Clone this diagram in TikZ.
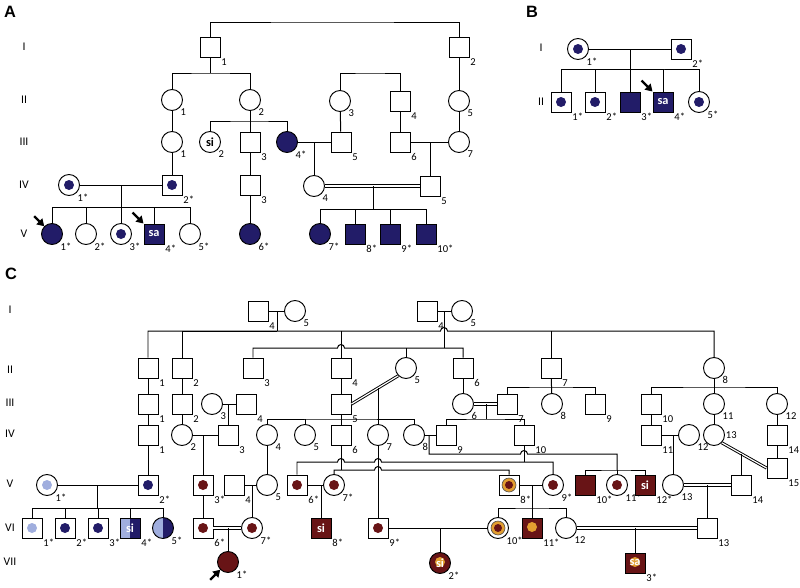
\documentclass[tikz,border=0pt]{standalone}
\usepackage{fontspec}
\setmainfont{Carlito}
\newfontfamily\panelfont{Liberation Sans}
\usepackage{tikz}
\usetikzlibrary{arrows.meta}

\definecolor{navy}{RGB}{34,28,104}
\definecolor{dred}{RGB}{104,20,22}
\definecolor{lblue}{RGB}{160,174,222}
\definecolor{gold}{RGB}{226,158,48}

\tikzset{
  male/.style={draw, rectangle, minimum size=0.6cm, inner sep=0pt, line width=0.8pt},
  female/.style={draw, circle, minimum size=0.63cm, inner sep=0pt, line width=0.8pt},
  carrier/.style={path picture={\fill[#1] (path picture bounding box.center) circle (0.15cm);}},
  ring/.style={path picture={\filldraw[fill=gold, draw=black!70, line width=0.5pt] (path picture bounding box.center) circle (0.21cm);
      \fill[dred] (path picture bounding box.center) circle (0.12cm);}},
  half/.style={path picture={\fill[lblue] (path picture bounding box.south west) rectangle (path picture bounding box.north);
      \fill[navy] (path picture bounding box.south) rectangle (path picture bounding box.north east);}},
  golddot/.style={path picture={\fill[gold] ([yshift=0.03cm]path picture bounding box.center) circle (0.15cm);}},
  txt/.style={font=\fontsize{10.5}{10.5}\selectfont\bfseries, text=white},
  txtb/.style={font=\fontsize{10.5}{10.5}\selectfont\bfseries},
  num/.style={font=\fontsize{9}{9}\selectfont, text=black, inner sep=0.4pt},
  lab/.style={label={[num]-45:#1}},
  gen/.style={font=\fontsize{10}{10}\selectfont},
  panel/.style={font=\panelfont\bfseries\fontsize{14}{14}\selectfont},
  dbl/.style={double, double distance=1pt, line width=0.8pt},
  proband/.style={-{Triangle[length=6pt,width=7pt]}, line width=2pt},
}

\begin{document}
\begin{tikzpicture}[x=0.03cm, y=-0.03cm, line width=0.85pt]
\useasboundingbox (0,0) rectangle (800,588);

% panel letters and generations
\node[panel] (pA) at (10,12) {A};
\node[panel] (pB) at (532,12) {B};
\node[panel] (pC) at (11,274) {C};
\foreach \r/\y in {I/47,II/100,III/142,IV/185,V/234}
  \node[gen] (a\r) at (24,\y) {\r};
\foreach \r/\y in {I/48,II/102}
  \node[gen] (b\r) at (541,\y) {\r};
\foreach \r/\y in {I/310,II/370,III/403,IV/434,V/484,VI/528,VII/562}
  \node[gen] (c\r) at (10,\y) {\r};

%%%%% A
\node[male, lab=1] (ai1) at (210,47) {};
\node[male, lab=2] (ai2) at (459,47) {};
\node[female, lab=1] (aii1) at (172,100) {};
\node[female, lab=2] (aii2) at (250,100) {};
\node[female, lab=3] (aii3) at (340,101) {};
\node[male, lab=4] (aii4) at (400,101) {};
\node[female, lab=5] (aii5) at (459,101) {};
\node[female, lab=1] (aiii1) at (172,142) {};
\node[female, txtb, lab=2] (aiii2) at (210,142) {si};
\node[male, lab=3] (aiii3) at (250,142) {};
\node[female, fill=navy, lab=4*] (aiii4) at (287,142) {};
\node[male, lab=5] (aiii5) at (341,142) {};
\node[male, lab=6] (aiii6) at (400,142) {};
\node[female, lab=7] (aiii7) at (459,142) {};
\node[female, carrier=navy, lab=1*] (aiv1) at (69,185) {};
\node[male, carrier=navy, lab=2*] (aiv2) at (172,185) {};
\node[male, lab=3] (aiv3) at (250,185) {};
\node[female, lab=4] (aiv4) at (314,186) {};
\node[male, lab=5] (aiv5) at (430,186) {};
\node[female, fill=navy, lab=1*] (av1) at (52,234) {};
\node[female, lab=2*] (av2) at (86,234) {};
\node[female, carrier=navy, lab=3*] (av3) at (121,234) {};
\node[male, fill=navy, txt, lab=4*] (av4) at (154,234) {sa};
\node[female, lab=5*] (av5) at (190,234) {};
\node[female, fill=navy, lab=6*] (av6) at (250,234) {};
\node[female, fill=navy, lab=7*] (av7) at (320,234) {};
\node[male, fill=navy, lab=8*] (av8) at (355,234) {};
\node[male, fill=navy, lab=9*] (av9) at (390,234) {};
\node[male, fill=navy, lab=10*] (av10) at (426,234) {};

\coordinate (atop) at (330,22);
\coordinate (sa1) at (210,73);
\coordinate (sa2) at (370,73);
\coordinate (sa3) at (250,121);
\coordinate (ma1) at (314,142);
\coordinate (ma2) at (430,142);
\coordinate (ma3) at (121,185);
\coordinate (sa4) at (121,207);
\coordinate (ma4) at (373,186);
\coordinate (sa5) at (373,209);

\draw (ai1) |- (atop) -| (ai2);
\draw (ai1) -- (sa1);
\draw (aii1) |- (sa1) -| (aii2);
\draw (aii3) |- (sa2) -| (aii4);
\draw (ai2) -- (aii5) -- (aiii7);
\draw (aii1) -- (aiii1) -- (aiv2);
\draw (aii2) -- (aiii3) -- (aiv3) -- (av6);
\draw (aiii2) |- (sa3) -| (aiii4);
\draw (aii3) -- (aiii5);
\draw (aii4) -- (aiii6);
\draw (aiii4) -- (aiii5);
\draw (ma1) -- (aiv4);
\draw (aiii6) -- (aiii7);
\draw (ma2) -- (aiv5);
\draw (aiv1) -- (aiv2);
\draw (ma3) -- (sa4);
\foreach \ch in {av1,av2,av3,av4,av5} \draw (sa4) -| (\ch);
\draw[dbl] (aiv4) -- (aiv5);
\draw (ma4) -- (sa5);
\foreach \ch in {av7,av8,av9,av10} \draw (sa5) -| (\ch);
\draw[proband] (av1.north west) +(-10,-10) -- (av1.north west);
\draw[proband] (av4.north west) +(-11,-11) -- (av4.north west);

%%%%% B
\node[female, carrier=navy, lab=1*] (bi1) at (578,49) {};
\node[male, carrier=navy, lab=2*] (bi2) at (681,49) {};
\node[male, carrier=navy, lab=1*] (bii1) at (561,102) {};
\node[male, carrier=navy, lab=2*] (bii2) at (595,102) {};
\node[male, fill=navy, lab=3*] (bii3) at (630,102) {};
\node[male, fill=navy, txt, lab=4*] (bii4) at (663,102) {sa};
\node[female, carrier=navy, lab=5*] (bii5) at (699,102) {};

\coordinate (mb1) at (630,49);
\coordinate (sb1) at (630,69);
\draw (bi1) -- (bi2);
\draw (mb1) -- (sb1);
\draw (bii1) |- (sb1) -| (bii5);
\foreach \ch in {bii2,bii3,bii4} \draw (sb1) -| (\ch);
\draw[proband] (bii4.north west) +(-11,-11) -- (bii4.north west);

%%%%% C
% I
\node[male, lab=4] (ci1) at (258,311) {};
\node[female, lab=5] (ci2) at (295,311) {};
\node[male, lab=4] (ci3) at (427,311) {};
\node[female, lab=5] (ci4) at (462,311) {};
% II
\node[male, lab=1] (cii1) at (148,368) {};
\node[male, lab=2] (cii2) at (182,368) {};
\node[male, lab=3] (cii3) at (253,368) {};
\node[male, lab=4] (cii4) at (341,368) {};
\node[female, lab=5] (cii5) at (406,368) {};
\node[male, lab=6] (cii6) at (463,368) {};
\node[male, lab=7] (cii7) at (551,368) {};
\node[female, lab=8] (cii8) at (714,368) {};
% III
\node[male, lab=1] (ciii1) at (148,404) {};
\node[male, lab=2] (ciii2) at (182,404) {};
\node[female, lab=3] (ciii3) at (212,404) {};
\node[male, lab=4] (ciii4) at (246,404) {};
\node[male, lab=5] (ciii5) at (341,404) {};
\node[female, lab=6] (ciii6) at (463,404) {};
\node[male, lab=7] (ciii7) at (507,404) {};
\node[female, lab=8] (ciii8) at (552,404) {};
\node[male, lab=9] (ciii9) at (595,404) {};
\node[male, lab=10] (ciii10) at (651,404) {};
\node[female, lab=11] (ciii11) at (714,404) {};
\node[female, lab=12] (ciii12) at (777,404) {};
% IV
\node[male, lab=1] (civ1) at (148,435) {};
\node[female, lab=2] (civ2) at (182,435) {};
\node[male, lab=3] (civ3) at (228,435) {};
\node[female, lab=4] (civ4) at (267,435) {};
\node[female, lab=5] (civ5) at (305,435) {};
\node[male, lab=6] (civ6) at (341,435) {};
\node[female, lab=7] (civ7) at (378,435) {};
\node[female, lab=8] (civ8) at (414,435) {};
\node[male, lab=9] (civ9) at (446,435) {};
\node[male, lab=10] (civ10) at (524,435) {};
\node[male, lab=11] (civ11) at (651,435) {};
\node[female, lab=12] (civ12) at (689,435) {};
\node[female, label={[num]0:13}] (civ13) at (714,435) {};
\node[male, lab=14] (civ14) at (777,435) {};
% V
\node[female, carrier=lblue, lab=1*] (cv1) at (47,485) {};
\node[male, carrier=navy, lab=2*] (cv2) at (148,485) {};
\node[male, carrier=dred, lab=3*] (cv3) at (203,485) {};
\node[male, lab=4] (cv4) at (234,485) {};
\node[female, lab=5] (cv5) at (267,485) {};
\node[male, carrier=dred, lab=6*] (cv6) at (297,485) {};
\node[female, carrier=dred, lab=7*] (cv7) at (334,485) {};
\node[male, ring, lab=8*] (cv8) at (509,485) {};
\node[female, carrier=dred, lab=9*] (cv9) at (553,485) {};
\node[male, fill=dred, lab=10*] (cv10) at (585,485) {};
\node[female, carrier=dred, lab=11*] (cv11) at (617,485) {};
\node[male, fill=dred, txt, lab=12*] (cv12) at (645,485) {si};
\node[female, lab=13] (cv13) at (673,485) {};
\node[male, lab=14] (cv14) at (741,485) {};
\node[male, lab=15] (cv15) at (777,468) {};
% VI
\node[male, carrier=lblue, lab=1*] (cvi1) at (32,528) {};
\node[male, carrier=navy, lab=2*] (cvi2) at (65,528) {};
\node[male, carrier=navy, lab=3*] (cvi3) at (98,528) {};
\node[male, half, txt, lab=4*] (cvi4) at (130,528) {si};
\node[female, half, lab=5*] (cvi5) at (163,528) {};
\node[male, carrier=dred, lab=6*] (cvi6) at (203,528) {};
\node[female, carrier=dred, lab=7*] (cvi7) at (252,528) {};
\node[male, fill=dred, txt, lab=8*] (cvi8) at (321,528) {si};
\node[male, carrier=dred, lab=9*] (cvi9) at (378,528) {};
\node[female, ring, lab=10*] (cvi10) at (498,528) {};
\node[male, fill=dred, golddot, lab=11*] (cvi11) at (532,528) {};
\node[female, lab=12] (cvi12) at (566,528) {};
\node[male, lab=13] (cvi13) at (707,528) {};
% VII
\node[female, fill=dred, lab=1*] (cvii1) at (228,562) {};
\node[female, fill=dred, golddot, txt, lab=2*] (cvii2) at (440,563) {si};
\node[male, fill=dred, golddot, txt, lab=3*] (cvii3) at (635,563) {sa};

\coordinate (mc1) at (277,311);
\coordinate (sc1) at (277,331);
\coordinate (mc2) at (444,311);
\coordinate (sc2) at (444,348);
\coordinate (hop1) at (440.5,331);
\coordinate (hop2) at (337.5,348);
\draw (ci1) -- (ci2);
\draw (ci3) -- (ci4);
\draw (mc1) -- (sc1);
\draw (mc2) -- (sc2);
\draw (cii1) |- (hop1) arc (180:360:3.5) -| (cii8);
\draw (sc1) -| (cii2);
\draw (cii4) -- (cii4 |- sc1);
\draw (cii7) -- (cii7 |- sc1);
\draw (cii3) |- (hop2) arc (180:360:3.5) -| (cii6);
\draw (cii5) -- (cii5 |- sc2);

\draw (cii1) -- (ciii1) -- (civ1) -- (cv2);
\draw (cii2) -- (ciii2) -- (civ2);
\draw (cii4) -- (ciii5) -- (civ6);
\draw (cii6) -- (ciii6);
\draw[dbl] (cii5.south west) -- (ciii5.east) coordinate[pos=0.43] (mc3);
\draw (mc3) -- (mc3 |- civ7.north);

\coordinate (mc4) at (228,404);
\draw (ciii3) -- (ciii4);
\draw (mc4) -- (civ3);
\coordinate (mc5) at (203,435);
\draw (civ2) -- (civ3);
\draw (mc5) -- (cv3) -- (cvi6);

\coordinate (sc3) at (341,419);
\draw (civ4) |- (sc3) -| (civ8);
\draw (civ5) -- (civ5 |- sc3);
\draw (civ4) -- (cv5);

\coordinate (sc4) at (551,387);
\draw (cii7) -- (ciii8);
\draw (ciii7) |- (sc4) -| (ciii9);
\coordinate (sc5) at (714,387);
\draw (cii8) -- (ciii11) -- (civ13);
\draw (ciii10) |- (sc5) -| (ciii12);
\draw (ciii10) -- (civ11);
\draw (ciii12) -- (civ14) -- (cv15);

\coordinate (mc6) at (486,404);
\coordinate (sc6) at (486,419);
\draw[dbl] (ciii6) -- (ciii7);
\draw (mc6) -- (sc6);
\draw (civ9) |- (sc6) -| (civ10);

% hops in generation IV to V
\coordinate (mc7) at (429,435);
\coordinate (hop3) at (520.5,454);
\coordinate (sc7) at (617,470);
\draw (civ8) -- (civ9);
\draw (mc7) |- (hop3) arc (180:360:3.5) -| (sc7);
\draw (cv10) |- (sc7) -| (cv12);
\draw (sc7) -- (cv11);

\coordinate (sc8) at (524,462);
\coordinate (hop4) at (337.5,462);
\coordinate (hop5) at (374.5,462);
\draw (civ10) -- (sc8);
\draw (cv6) |- (hop4) arc (180:360:3.5) -- (hop5) arc (180:360:3.5) -| (cv9);

\coordinate (sc9) at (341,470);
\coordinate (hop6) at (374.5,470);
\draw (civ6) -- (sc9);
\draw (cv7) |- (hop6) arc (180:360:3.5) -| (cv8);
\draw (civ7) -- (cvi9);

\coordinate (mc8) at (97,485);
\coordinate (sc10) at (97,508);
\draw (cv1) -- (cv2);
\draw (mc8) -- (sc10);
\foreach \ch in {cvi1,cvi2,cvi3,cvi4,cvi5} \draw (sc10) -| (\ch);

\coordinate (mc9) at (252,485);
\draw (cv4) -- (cv5);
\draw (mc9) -- (cvi7);
\coordinate (mc10) at (321,485);
\draw (cv6) -- (cv7);
\draw (mc10) -- (cvi8);
\coordinate (mc11) at (532,485);
\coordinate (sc11) at (532,508);
\draw (cv8) -- (cv9);
\draw (mc11) -- (cvi11);
\draw (cvi10) |- (sc11) -| (cvi12);

\coordinate (mc12) at (707,485);
\draw[dbl] (cv13) -- (cv14);
\draw (mc12) -- (cvi13);
\coordinate (mc13) at (673,435);
\draw (civ11) -- (civ12);
\draw (mc13) -- (cv13);
\draw[dbl] (civ13.south east) -- (cv15.west) coordinate[pos=0.43] (mc14);
\draw (mc14) -- (mc14 |- cv14.north);

\coordinate (mc15) at (228,528);
\draw[dbl] (cvi6) -- (cvi7);
\draw (mc15) -- (cvii1);
\coordinate (mc16) at (440,528);
\draw (cvi9) -- (cvi10);
\draw (mc16) -- (cvii2);
\coordinate (mc17) at (635,528);
\draw[dbl] (cvi12) -- (cvi13);
\draw (mc17) -- (cvii3);
\draw[proband] (cvii1.south west) +(-10,10) -- (cvii1.south west);

\end{tikzpicture}
\end{document}
